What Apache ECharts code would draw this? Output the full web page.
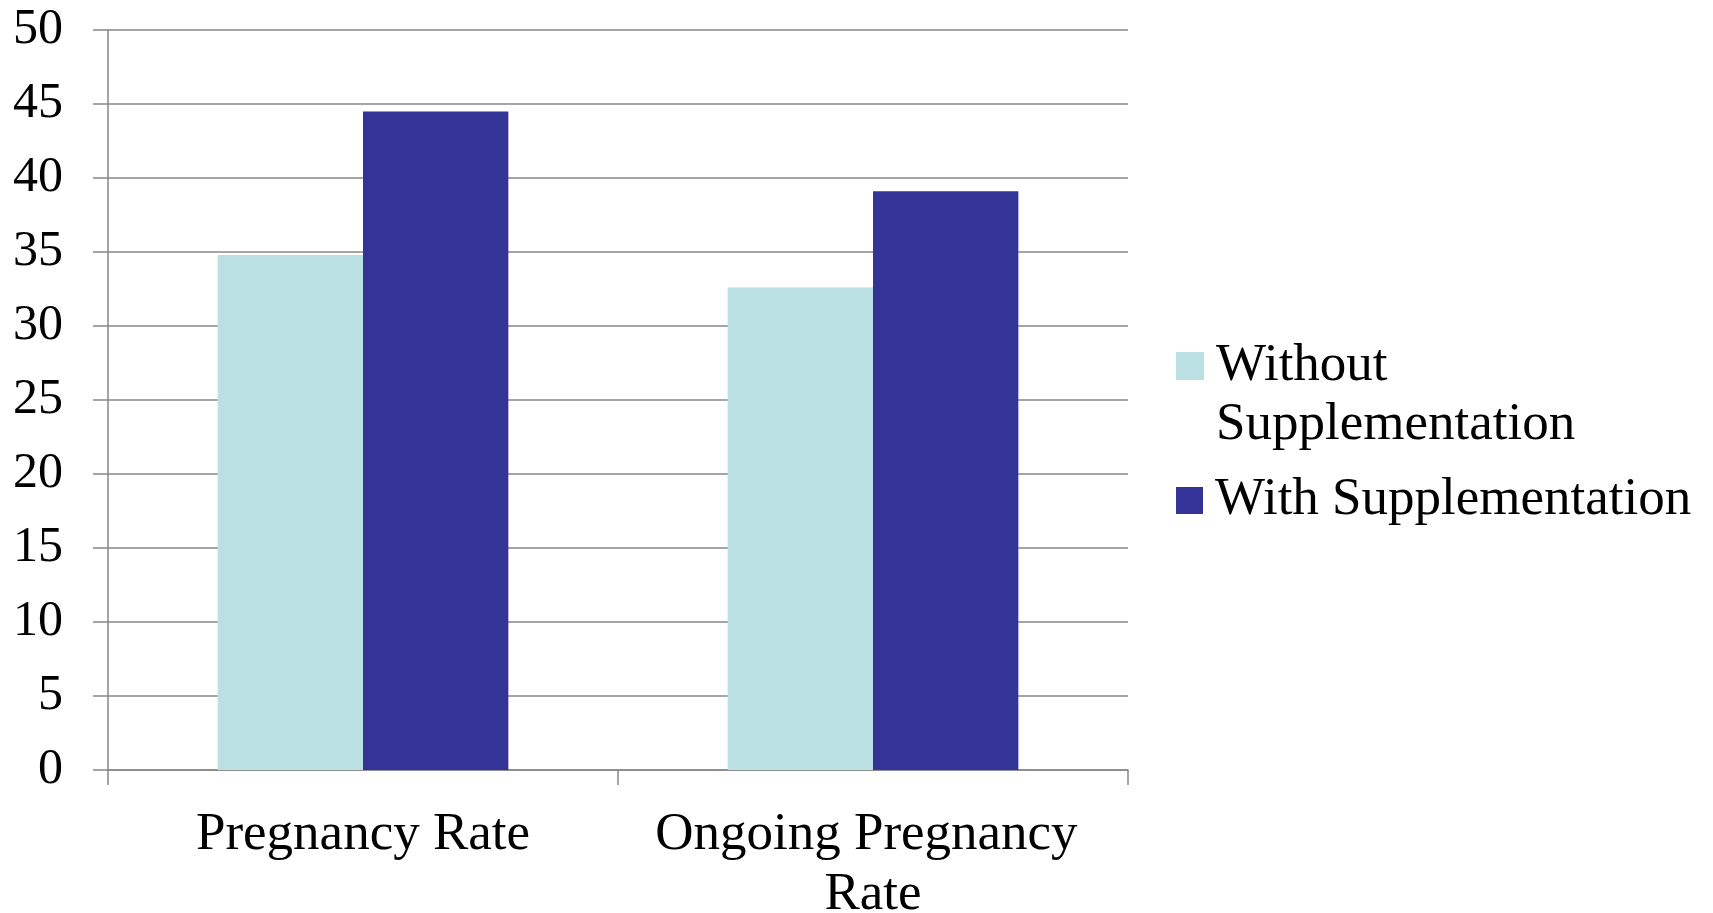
<!DOCTYPE html>
<html>
<head>
<meta charset="utf-8">
<script src="https://cdn.jsdelivr.net/npm/echarts@6/dist/echarts.min.js"></script>
<style>
  html, body { margin: 0; padding: 0; background: #ffffff; overflow: hidden; }
  #chart { width: 1713px; height: 913px; }
</style>
</head>
<body>
<div id="chart"></div>
<script>
// Categories and rates (%)
const categories = ['Pregnancy Rate', 'Ongoing Pregnancy Rate'];
const withoutSupplementation = [34.8, 32.6];
const withSupplementation = [44.5, 39.1];
const seriesNames = ['Without Supplementation', 'With Supplementation'];
const yTicks = { min: 0, max: 50, interval: 5 };

const FONT = '"Liberation Serif", "Times New Roman", serif';
const GRID_GREY = '#878787';
const LEGEND_LINE = 59;

const chart = echarts.init(document.getElementById('chart'), null, { renderer: 'canvas' });

chart.setOption({
  animation: false,
  backgroundColor: '#ffffff',
  textStyle: { fontFamily: FONT, color: '#000000' },
  grid: {
    left: 108, top: 30, width: 1020, height: 740,
    containLabel: false, outerBoundsMode: 'none'
  },
  legend: [
    {
      // leading blank line keeps the first text line level with the swatch
      data: [seriesNames[0]],
      orient: 'vertical',
      left: 1176,
      top: 352 - 74.5,
      padding: 0,
      itemWidth: 28,
      itemHeight: 28,
      icon: 'rect',
      formatter: () => ' \nWithout\nSupplementation',
      textStyle: {
        fontFamily: FONT, fontSize: 53, color: '#000000',
        lineHeight: LEGEND_LINE, padding: [0, 0, 0, 7]
      }
    },
    {
      data: [seriesNames[1]],
      orient: 'vertical',
      left: 1176,
      top: 471,
      padding: 0,
      itemWidth: 27,
      itemHeight: 27,
      icon: 'rect',
      textStyle: {
        fontFamily: FONT, fontSize: 53, color: '#000000',
        lineHeight: LEGEND_LINE, padding: [0, 0, 0, 7]
      }
    }
  ],
  xAxis: {
    type: 'category',
    data: categories,
    axisLine: { show: true, lineStyle: { color: GRID_GREY, width: 1.5 } },
    axisTick: { show: true, length: 15, lineStyle: { color: GRID_GREY, width: 1.5 } },
    axisLabel: {
      fontFamily: FONT, fontSize: 53, color: '#000000',
      margin: 35, lineHeight: 60, width: 470, overflow: 'break', interval: 0
    }
  },
  yAxis: {
    type: 'value',
    min: yTicks.min,
    max: yTicks.max,
    interval: yTicks.interval,
    axisLine: { show: true, lineStyle: { color: GRID_GREY, width: 1.5 } },
    axisTick: { show: true, length: 15, lineStyle: { color: GRID_GREY, width: 1.5 } },
    axisLabel: { fontFamily: FONT, fontSize: 50, color: '#000000', margin: 45 },
    splitLine: { show: true, lineStyle: { color: GRID_GREY, width: 1.5 } }
  },
  series: [
    {
      name: seriesNames[0],
      type: 'bar',
      data: withoutSupplementation,
      barGap: '0%',
      barCategoryGap: '43%',
      itemStyle: { color: '#bae0e3' }
    },
    {
      name: seriesNames[1],
      type: 'bar',
      data: withSupplementation,
      barGap: '0%',
      barCategoryGap: '43%',
      itemStyle: { color: '#343398' }
    }
  ]
});
</script>
</body>
</html>
